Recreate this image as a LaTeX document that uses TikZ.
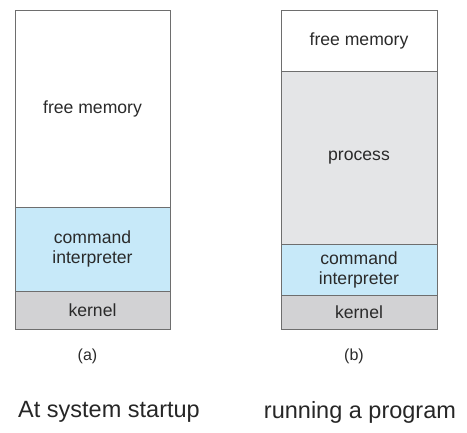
\documentclass[tikz,border=0pt]{standalone}
\usepackage{fontspec}
\setmainfont{Liberation Sans}
\usetikzlibrary{positioning}
\definecolor{segline}{HTML}{6E6E6E}
\definecolor{segtext}{HTML}{2A2A2A}
\definecolor{cmdblue}{HTML}{C7E9F9}
\definecolor{procgray}{HTML}{E4E5E7}
\definecolor{kernelgray}{HTML}{D2D2D4}

\begin{document}
\begin{tikzpicture}[x=1pt,y=1pt,
    seg/.style={draw=segline, line width=0.8pt, outer sep=0pt, inner sep=0pt,
      align=center, text=segtext, font=\fontsize{17.6}{20}\selectfont},
    segA/.style={seg, minimum width=155pt},
    segB/.style={seg, minimum width=156pt},
    tag/.style={text=segtext, font=\fontsize{16}{18}\selectfont},
    caption/.style={text=black!85, font=\fontsize{23.5}{26}\selectfont}]
    \useasboundingbox (0,0) rectangle (467,-433);
    % (a) at system startup
    \node[segA, minimum height=197pt, anchor=north west] (freeA) at (15,-10) {free memory};
    \node[segA, fill=cmdblue, minimum height=84pt, below=0pt of freeA] (cmdA) {command\\interpreter};
    \node[segA, fill=kernelgray, minimum height=38pt, below=0pt of cmdA] (kernelA) {kernel};
    % (b) running a program
    \node[segB, minimum height=61pt, anchor=north west] (freeB) at (281,-10) {free memory};
    \node[segB, fill=procgray, minimum height=173pt, below=0pt of freeB] (procB) {process};
    \node[segB, fill=cmdblue, minimum height=51pt, below=0pt of procB] (cmdB) {command\\interpreter};
    \node[segB, fill=kernelgray, minimum height=34pt, below=0pt of cmdB] (kernelB) {kernel};
    % labels
    \node[tag, below=16pt of kernelA, xshift=-5pt] (tagA) {(a)};
    \node[tag, below=16pt of kernelB, xshift=-5pt] (tagB) {(b)};
    \node[caption] (capA) at (109,-412) {At system startup};
    \node[caption] (capB) at (360,-412) {running a program};
\end{tikzpicture}
\end{document}
